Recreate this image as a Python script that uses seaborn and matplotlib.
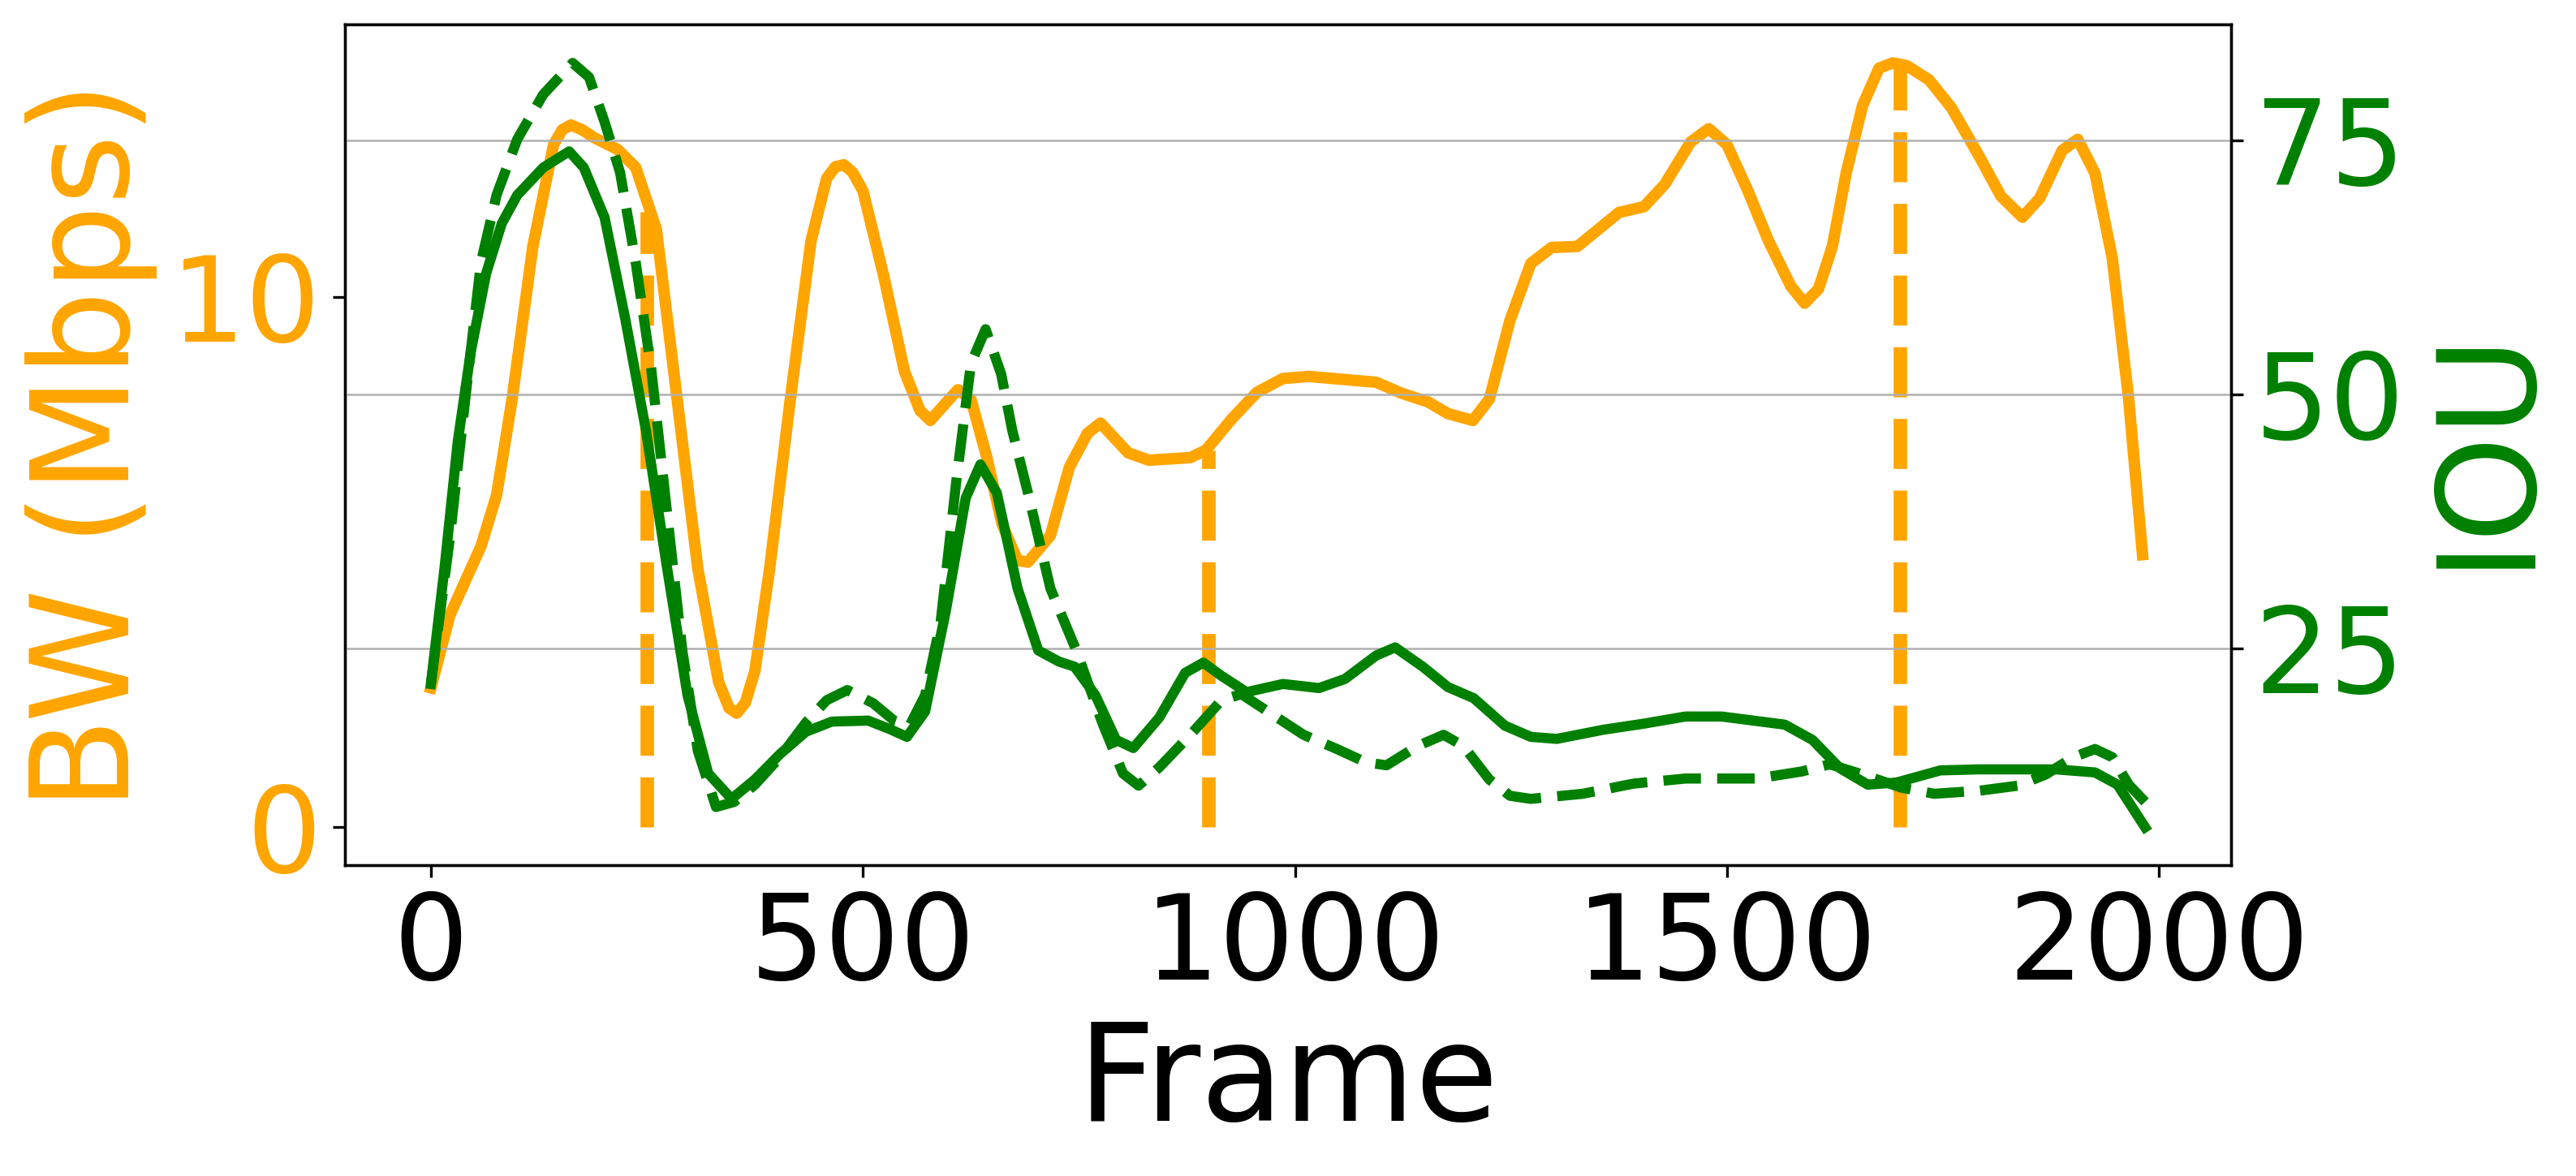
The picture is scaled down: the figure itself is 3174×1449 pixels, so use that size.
import numpy as np
import pandas as pd
import seaborn as sns
import matplotlib.pyplot as plt

# bandwidth trace (orange)
bw_frames = [0, 22, 58, 76, 94, 118, 142, 152, 162, 175, 189, 216, 237, 261, 285, 309, 333,
             345, 354, 364, 375, 392, 416, 440, 458, 468, 478, 488, 500, 524, 548, 566, 578,
             596, 610, 625, 643, 661, 679, 691, 717, 739, 760, 775, 807, 831, 879, 897, 927,
             956, 986, 1016, 1094, 1124, 1154, 1177, 1206, 1225, 1249, 1273, 1297, 1327,
             1351, 1375, 1404, 1428, 1458, 1479, 1500, 1524, 1548, 1574, 1590, 1606, 1622,
             1638, 1657, 1676, 1692, 1708, 1734, 1760, 1792, 1817, 1842, 1862, 1888, 1906,
             1926, 1946, 1965, 1981]
bw_values = [2.63, 4.0, 5.3, 6.26, 8.07, 10.95, 12.87, 13.15, 13.24, 13.15, 13.0, 12.78,
             12.44, 11.27, 8.07, 4.87, 2.74, 2.25, 2.15, 2.35, 2.95, 4.87, 8.07, 11.06, 12.23,
             12.45, 12.49, 12.35, 12.0, 10.4, 8.6, 7.86, 7.67, 8.0, 8.25, 8.07, 7.0, 5.72,
             5.03, 5.0, 5.5, 6.79, 7.43, 7.62, 7.06, 6.92, 6.97, 7.11, 7.7, 8.2, 8.46, 8.5,
             8.39, 8.18, 8.02, 7.8, 7.67, 8.07, 9.56, 10.63, 10.93, 10.95, 11.27, 11.59, 11.7,
             12.12, 12.92, 13.17, 12.87, 12.01, 11.06, 10.2, 9.88, 10.15, 10.95, 12.33, 13.61,
             14.31, 14.41, 14.36, 14.09, 13.56, 12.65, 11.9, 11.5, 11.86, 12.76, 12.97, 12.33,
             10.73, 8.07, 5.14]

# IOU, solid green
iou_frames = [0, 16, 31, 46, 64, 82, 100, 130, 160, 177, 201, 225, 249, 273, 297, 321,
              348, 375, 404, 434, 464, 506, 530, 551, 572, 596, 619, 636, 655, 679, 703,
              727, 745, 769, 793, 813, 843, 873, 894, 915, 944, 986, 1028, 1058, 1094, 1116,
              1148, 1177, 1207, 1243, 1273, 1303, 1357, 1404, 1452, 1494, 1567, 1599, 1631,
              1663, 1696, 1747, 1792, 1881, 1926, 1952, 1984]
iou_values = [21.5, 33.1, 45.3, 54.1, 61.9, 66.8, 69.6, 72.3, 73.9, 72.3, 67.4, 57.4, 46.4,
              33.1, 20.4, 12.7, 10.2, 12.1, 14.6, 16.8, 17.8, 17.9, 17.1, 16.3, 18.8, 28.7,
              39.8, 43.1, 40.3, 30.9, 24.8, 23.7, 23.2, 20.4, 16.0, 15.2, 18.2, 22.6, 23.6,
              22.3, 20.7, 21.5, 21.1, 22.0, 24.3, 25.1, 23.2, 21.2, 20.1, 17.4, 16.3, 16.1,
              17.0, 17.6, 18.3, 18.3, 17.5, 16.0, 13.2, 11.6, 11.8, 13.0, 13.1, 13.1, 12.8,
              11.6, 7.4]

# IOU, dashed green
iou2_frames = [0, 22, 40, 58, 76, 100, 130, 164, 183, 201, 219, 237, 255, 273, 291, 309,
               330, 351, 375, 404, 434, 458, 482, 512, 536, 554, 572, 590, 608, 625, 642,
               660, 673, 691, 717, 747, 777, 801, 819, 843, 879, 915, 938, 974, 1010, 1046,
               1082, 1106, 1142, 1172, 1195, 1225, 1249, 1273, 1333, 1392, 1452, 1535, 1587,
               1619, 1657, 1702, 1740, 1792, 1837, 1869, 1901, 1926, 1946, 1965, 1984]
iou2_values = [21.5, 35.9, 49.7, 63.0, 69.6, 75.1, 79.5, 82.6, 81.2, 76.8, 71.8, 63.0, 52.5,
               38.6, 24.8, 14.9, 9.4, 9.9, 11.6, 14.3, 17.7, 19.9, 20.9, 19.6, 17.9, 17.4,
               20.4, 27.6, 41.4, 53.0, 56.4, 52.0, 46.4, 40.3, 30.9, 24.8, 17.7, 12.7, 11.5,
               13.3, 16.5, 19.9, 20.5, 18.5, 16.5, 15.2, 13.8, 13.5, 15.4, 16.5, 15.4, 12.1,
               10.5, 10.2, 10.7, 11.7, 12.2, 12.2, 12.9, 13.6, 12.6, 11.3, 10.7, 11.0, 11.5,
               12.6, 14.3, 15.1, 14.3, 11.6, 9.9]

# switch points (orange dashed verticals)
switch_frames = [250, 900, 1700]
switch_bw = [11.6, 7.1, 14.35]

bw_df = pd.DataFrame({"Frame": bw_frames, "BW": bw_values})
iou_df = pd.DataFrame({"Frame": iou_frames, "IOU": iou_values})
iou2_df = pd.DataFrame({"Frame": iou2_frames, "IOU": iou2_values})

fig = plt.figure(figsize=(10.58, 4.83), dpi=300)
ax1 = fig.add_axes([0.134, 0.264, 0.732, 0.715])
ax2 = ax1.twinx()

sns.lineplot(data=bw_df, x="Frame", y="BW", ax=ax1, color="orange", linewidth=3.4)
ax1.vlines(switch_frames, 0, switch_bw, colors="orange", linestyles="--", linewidth=4)

sns.lineplot(data=iou_df, x="Frame", y="IOU", ax=ax2, color="green", linewidth=3)
sns.lineplot(data=iou2_df, x="Frame", y="IOU", ax=ax2, color="green", linewidth=3,
             linestyle="--")

ax1.set_xlabel("Frame", fontsize=40)
ax1.set_ylabel("BW (Mbps)", fontsize=40, color="orange")
ax2.set_ylabel("IOU", fontsize=40, color="green")

ax1.set_xticks([0, 500, 1000, 1500, 2000])
ax1.set_yticks([0, 10])
ax2.set_yticks([25, 50, 75])

ax1.tick_params(axis="x", labelsize=35)
ax1.tick_params(axis="y", labelsize=35, labelcolor="orange")
ax2.tick_params(axis="y", labelsize=35, labelcolor="green")

ax2.grid(axis="y", color="#b0b0b0", linewidth=0.6)

fig.savefig("out.png", dpi=300)
